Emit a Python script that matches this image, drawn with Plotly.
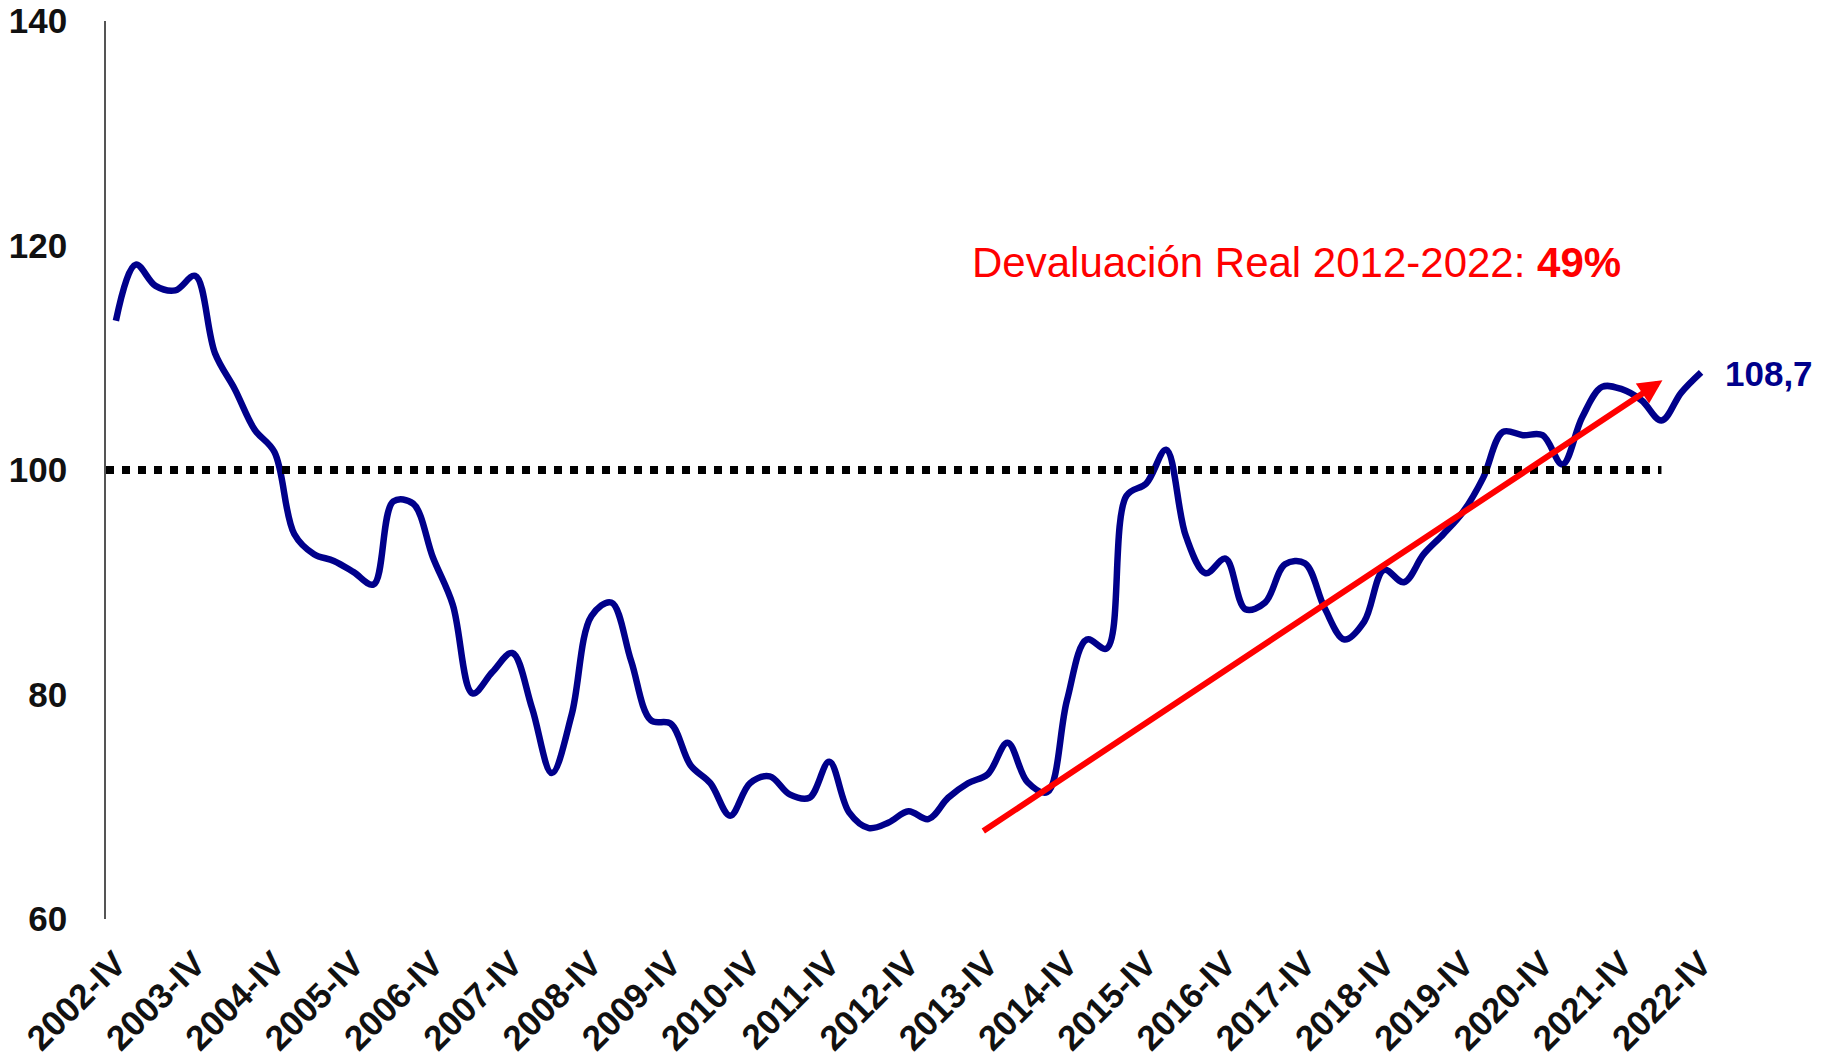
import plotly.graph_objects as go

# Categories: quarters from 2002-IV to 2022-IV
roman = ["I", "II", "III", "IV"]
quarters = ["2002-IV"] + [f"{y}-{q}" for y in range(2003, 2023) for q in roman]
tick_labels = [f"{y}-IV" for y in range(2002, 2023)]

# Real exchange rate index
values = [
    113.3, 118.3, 116.4, 116.0, 117.3, 110.4, 107.2, 103.6, 101.6, 94.3,
    92.5, 91.9, 90.9, 89.8, 97.2, 97.0, 92.2, 88.0, 80.1, 82.0,
    83.7, 78.8, 73.0, 78.2, 87.0, 88.2, 83.0, 77.7, 77.4, 73.7,
    72.1, 69.2, 72.1, 72.7, 71.1, 70.8, 74.0, 69.5, 68.1, 68.6,
    69.6, 68.9, 70.8, 72.1, 72.9, 75.7, 72.2, 71.3, 79.5, 84.9,
    84.1, 97.7, 98.8, 101.8, 94.1, 90.8, 92.1, 87.6, 88.2, 91.6,
    91.7, 87.7, 84.9, 86.5, 91.1, 90.0, 92.5, 94.3, 96.3, 99.3,
    103.4, 103.1, 103.1, 100.5, 104.7, 107.4, 107.2, 106.2, 104.4, 106.9,
    108.7,
]

reference_level = 100
last_label = "108,7"
note_text = "Devaluación Real 2012-2022: <b>49%</b>"

FONT = "Liberation Sans, Arial, sans-serif"

fig = go.Figure()
fig.add_trace(go.Scatter(
    x=quarters, y=values, mode="lines",
    line=dict(color="#00008B", width=6.5, shape="spline", smoothing=1.0),
    hoverinfo="x+y", showlegend=False,
))

# dotted 100 line
fig.add_shape(type="line", xref="x", yref="y",
              x0=-0.5, x1=78, y0=reference_level, y1=reference_level,
              line=dict(color="black", width=8, dash="8px,8px"))

# red trend arrow
fig.add_annotation(x=78.05, y=108.0, ax=43.7, ay=67.75,
                   xref="x", yref="y", axref="x", ayref="y",
                   text="", showarrow=True, arrowhead=2, arrowsize=0.8,
                   arrowwidth=6, arrowcolor="#FF0000", standoff=0)

# red note
fig.add_annotation(x=59.6, y=118.5, xref="x", yref="y", text=note_text,
                   showarrow=False, xanchor="center", yanchor="middle",
                   font=dict(family=FONT, size=42, color="#FF0000"))

# last value label
fig.add_annotation(x=80, y=108.6, xref="x", yref="y", text=f"<b>{last_label}</b>",
                   showarrow=False, xanchor="left", yanchor="middle", xshift=22,
                   font=dict(family=FONT, size=35, color="#00008B"))

fig.update_layout(
    width=1833, height=1063,
    margin=dict(l=106, r=122, t=21, b=144),
    paper_bgcolor="white", plot_bgcolor="white",
    font=dict(family=FONT, color="#111111"),
    showlegend=False,
)
fig.update_xaxes(
    type="category", range=[-0.5, 80.5],
    tickmode="array", tickvals=tick_labels, ticktext=tick_labels,
    tickangle=-45, tickfont=dict(family=FONT, size=35, color="#111111", weight="bold"),
    showgrid=False, zeroline=False, showline=False, ticks="",
    ticklabelstandoff=16, ticklabeloverflow="allow", automargin=False,
)
fig.update_yaxes(
    range=[60, 140], tickvals=[60, 80, 100, 120, 140],
    tickfont=dict(family=FONT, size=35, color="#111111", weight="bold"),
    showgrid=False, zeroline=False, showline=True, linecolor="#555555", linewidth=1.5,
    ticks="", ticklabelstandoff=30, ticklabeloverflow="allow", automargin=False,
)

# remove the default page margin so the figure fills the window exactly
fig.write_html(
    "out.html",
    config={"displayModeBar": False},
    post_script="document.body.style.margin='0';document.body.style.overflow='hidden';",
)
